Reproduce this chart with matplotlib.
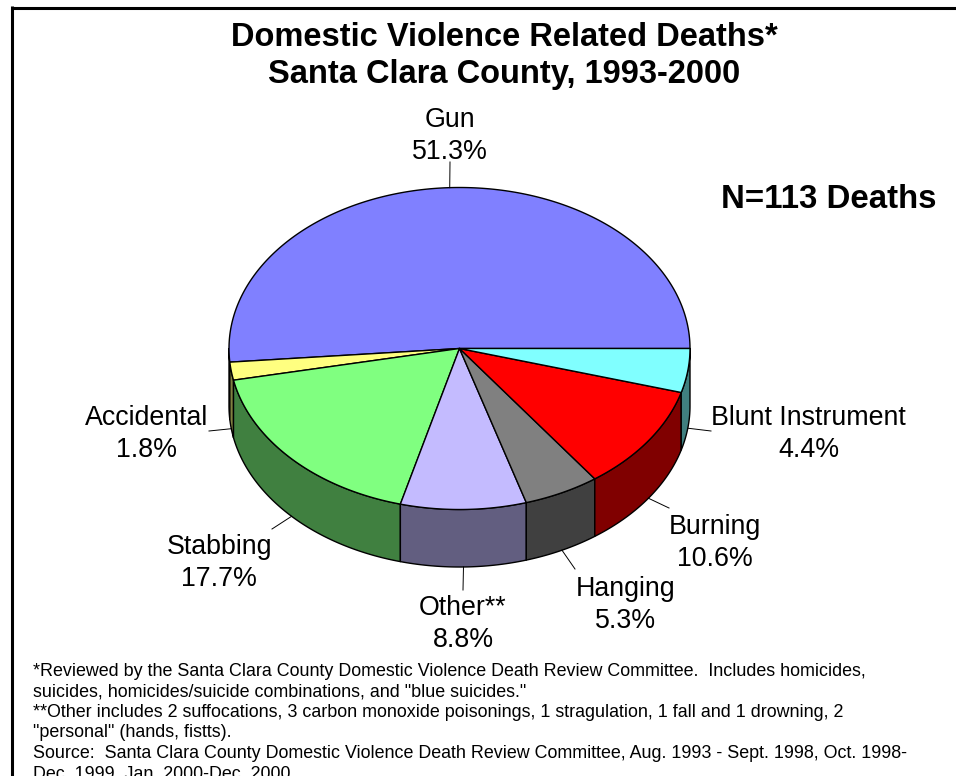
import numpy as np
import matplotlib
matplotlib.use('Agg')
import matplotlib.pyplot as plt
from matplotlib.patches import Polygon

plt.rcParams['font.family'] = ['Liberation Sans', 'DejaVu Sans']

# slices in drawing order, counter clockwise from 3 o'clock
names = ['Gun', 'Accidental', 'Stabbing', 'Other**', 'Hanging', 'Burning', 'Blunt Instrument']
shares = [51.3, 1.8, 17.7, 8.8, 5.3, 10.6, 4.4]
top_colors = ['#8080ff', '#ffff80', '#80ff80', '#c4bbff', '#808080', '#ff0000', '#80ffff']
side_colors = ['#404080', '#808040', '#408040', '#625e80', '#404040', '#800000', '#408080']

# centre of each label and the end of its leader, in pixels
label_centers = [(449.5, 136), (146.5, 434), (219, 563), (463, 624), (625.5, 605), (715, 543), (808.5, 434)]
leader_ends = [(450, 162), (209, 431), (272, 529), (463, 590), (575, 569), (669, 508), (711, 431)]

title_lines = 'Domestic Violence Related Deaths*\nSanta Clara County, 1993-2000'
n_text = 'N=113 Deaths'
notes = [
    '*Reviewed by the Santa Clara County Domestic Violence Death Review Committee.  Includes homicides,',
    'suicides, homicides/suicide combinations, and "blue suicides."',
    '**Other includes 2 suffocations, 3 carbon monoxide poisonings, 1 stragulation, 1 fall and 1 drowning, 2',
    '"personal" (hands, fistts).',
    'Source:  Santa Clara County Domestic Violence Death Review Committee, Aug. 1993 - Sept. 1998, Oct. 1998-',
    'Dec. 1999, Jan. 2000-Dec. 2000',
]

cx, cy = 459.5, 348.5
rx, ry = 230.5, 161
depth = 57.5


def ellipse(a1, a2, dy=0):
    t = np.radians(np.linspace(a1, a2, max(int(abs(a2 - a1) * 2), 2)))
    # angles run counter clockwise on screen, y axis points down
    return np.column_stack([cx + rx * np.cos(t), cy + dy - ry * np.sin(t)])


fig = plt.figure(figsize=(9.56, 7.76), dpi=100)
ax = fig.add_axes([0, 0, 1, 1])
ax.set_xlim(0, 956)
ax.set_ylim(776, 0)
ax.axis('off')

# frame, only top and left are in the picture
ax.plot([12.5, 12.5], [776, 6], color='black', lw=2.2, solid_capstyle='butt')
ax.plot([11, 956], [7.5, 7.5], color='black', lw=2.2, solid_capstyle='butt')

edges = np.concatenate([[0], np.cumsum(shares)]) / np.sum(shares) * 360

# rim first, only the front half shows
for i in range(len(shares)):
    a1, a2 = max(edges[i], 180), edges[i + 1]
    if a2 <= a1:
        continue
    pts = np.vstack([ellipse(a1, a2), ellipse(a1, a2, depth)[::-1]])
    ax.add_patch(Polygon(pts, closed=True, fc=side_colors[i], ec='black', lw=1.0, joinstyle='round'))

for i in range(len(shares)):
    pts = np.vstack([[cx, cy], ellipse(edges[i], edges[i + 1])])
    ax.add_patch(Polygon(pts, closed=True, fc=top_colors[i], ec='black', lw=1.0, joinstyle='round'))

for i, name in enumerate(names):
    mid = (edges[i] + edges[i + 1]) / 2
    start = ellipse(mid, mid + 1e-6, depth if mid > 180 else 0)[0]
    end = leader_ends[i]
    ax.plot([start[0], end[0]], [start[1], end[1]], color='black', lw=0.7)
    ax.text(label_centers[i][0], label_centers[i][1], '%s\n%.1f%%' % (name, shares[i]),
            ha='center', va='center', fontsize=19.3, linespacing=1.26)

ax.text(504.5, 56, title_lines, ha='center', va='center', fontsize=23.5, fontweight='bold', linespacing=1.29)
ax.text(828.5, 199.5, n_text, ha='center', va='center', fontsize=23.8, fontweight='bold')

for i, line in enumerate(notes):
    ax.text(33, 671 + i * 20.6, line, ha='left', va='center', fontsize=12.85)

fig.savefig('out.png', dpi=100)
